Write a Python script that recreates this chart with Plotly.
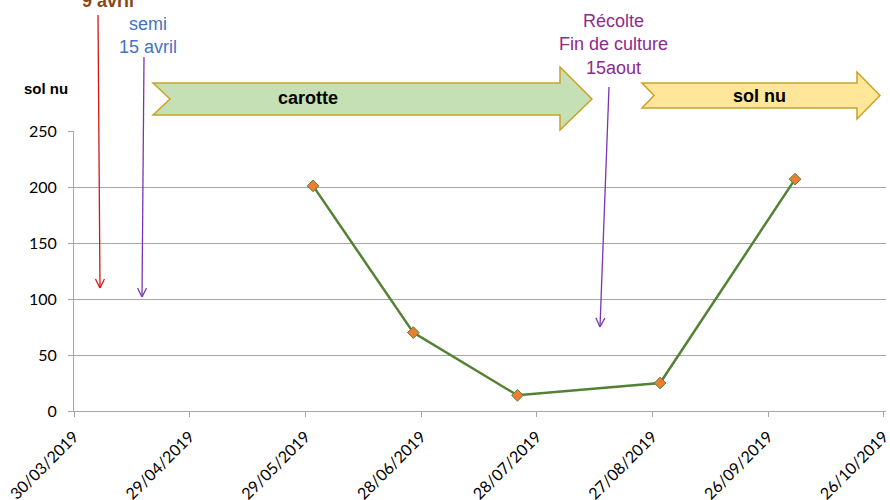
import plotly.graph_objects as go
from datetime import datetime, timedelta

# Soil measurements (sol nu) over the 2019 season
sample_dates = ["2019-05-31", "2019-06-26", "2019-07-23", "2019-08-29", "2019-10-03"]
sol_nu_values = [201, 70, 14, 25, 207]

# Axis ticks every 30 days, Excel-style
tick_dates = ["2019-03-30", "2019-04-29", "2019-05-29", "2019-06-28",
              "2019-07-28", "2019-08-27", "2019-09-26", "2019-10-26"]
tick_labels = ["30/03/2019", "29/04/2019", "29/05/2019", "28/06/2019",
               "28/07/2019", "27/08/2019", "26/09/2019", "26/10/2019"]
y_ticks = [0, 50, 100, 150, 200, 250]

W, H = 890, 500
PL, PR, PT, PB = 74, 886, 131, 411  # plot area in pixels


def px(x):
    return (x - PL) / (PR - PL)


def py(y):
    return (PB - y) / (PB - PT)


fig = go.Figure()
fig.add_trace(go.Scatter(
    x=sample_dates, y=sol_nu_values, mode="lines+markers",
    line=dict(color="#548235", width=2.5),
    marker=dict(symbol="diamond", size=9, color="#ED7D31",
                line=dict(color="#548235", width=1)),
    showlegend=False, hoverinfo="x+y",
))

x_start = datetime(2019, 3, 30)
x_end = x_start + timedelta(days=(PR - PL) / 3.856)

shapes = []
annotations = []


def block_arrow(x0, x1, notch, head_x, body_t, body_b, head_t, head_b, fill):
    mid = (body_t + body_b) / 2
    pts = [(x0, body_t), (head_x, body_t), (head_x, head_t), (x1, mid),
           (head_x, head_b), (head_x, body_b), (x0, body_b), (x0 + notch, mid)]
    path = "M " + " L ".join(f"{px(a):.5f},{py(b):.5f}" for a, b in pts) + " Z"
    shapes.append(dict(type="path", xref="paper", yref="paper", path=path,
                       fillcolor=fill, line=dict(color="#C9A227", width=1.5),
                       layer="above"))


def line_arrow(x0, y0, x1, y1, color):
    shapes.append(dict(type="line", xref="paper", yref="paper",
                       x0=px(x0), y0=py(y0), x1=px(x1), y1=py(y1),
                       line=dict(color=color, width=1.3)))
    dx, dy = x1 - x0, y1 - y0
    n = (dx * dx + dy * dy) ** 0.5
    ux, uy = dx / n, dy / n
    for s in (1, -1):
        hx = x1 - ux * 9 + s * (-uy) * 4.5
        hy = y1 - uy * 9 + s * ux * 4.5
        shapes.append(dict(type="line", xref="paper", yref="paper",
                           x0=px(hx), y0=py(hy), x1=px(x1), y1=py(y1),
                           line=dict(color=color, width=1.3)))


def label(text, x, y, color, size=18, bold=False):
    t = f"<b>{text}</b>" if bold else text
    annotations.append(dict(text=t, x=px(x), y=py(y), xref="paper", yref="paper",
                            xanchor="center", yanchor="middle", showarrow=False,
                            font=dict(family="Liberation Sans, Arial", size=size,
                                      color=color)))


# Crop periods
block_arrow(153, 592, 17, 560, 83, 115, 67, 130, "#C5E0B4")
block_arrow(642, 880, 12, 857, 83, 108, 72, 119, "#FFE699")
label("carotte", 308, 98, "#000000", bold=True)
label("sol nu", 759, 96, "#000000", bold=True)

# Key dates
line_arrow(98, 15, 100, 288, "#D01818")
line_arrow(144, 57, 142, 297, "#7A35B0")
line_arrow(609, 87, 600, 327, "#7A35B0")
label("9 avril", 108, 1, "#8B4513", bold=True)
label("semi<br>15 avril", 148, 35, "#4472C4")
label("Récolte<br>Fin de culture<br>15aout", 613, 44, "#8E2A8E")
label("sol nu", 46, 88, "#000000", size=15, bold=True)

axis_font = dict(family="Lato, Calibri, sans-serif", size=16, color="#000000")

fig.update_layout(
    width=W, height=H,
    margin=dict(l=PL, r=W - PR, t=PT, b=H - PB, autoexpand=False),
    paper_bgcolor="white", plot_bgcolor="white",
    shapes=shapes, annotations=annotations,
    xaxis=dict(
        type="date", range=[x_start, x_end], automargin=False,
        tickvals=tick_dates, ticktext=tick_labels, tickangle=-45,
        tickfont=axis_font, ticks="outside", ticklen=5, tickcolor="#A6A6A6",
        ticklabelstandoff=4, ticklabeloverflow="allow",
        showline=True, linecolor="#A6A6A6", linewidth=1,
        showgrid=False, zeroline=False,
    ),
    yaxis=dict(
        range=[0, 250], tickvals=y_ticks, tickfont=axis_font, automargin=False,
        ticks="outside", ticklen=5, tickcolor="#A6A6A6", ticklabelstandoff=8,
        showline=True, linecolor="#A6A6A6", linewidth=1,
        showgrid=True, gridcolor="#A6A6A6", gridwidth=1, zeroline=False,
    ),
)

fig.write_html("out.html")
